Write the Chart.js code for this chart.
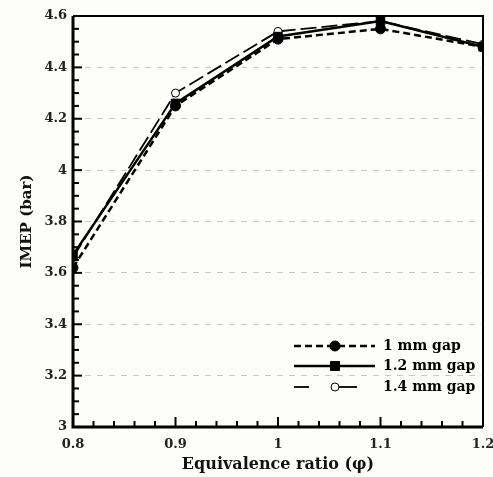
<!DOCTYPE html>
<html>
<head>
<meta charset="utf-8">
<script src="https://cdn.jsdelivr.net/npm/chart.js@4"></script>
<style>
html,body{margin:0;padding:0;background:#fdfdf9;}
#wrap{width:493px;height:477px;}
</style>
</head>
<body>
<div id="wrap"><canvas id="c" width="493" height="477"></canvas></div>
<script>
const phi = [0.8, 0.9, 1.0, 1.1, 1.2];
const gap1mm = [3.62, 4.25, 4.51, 4.55, 4.48];
const gap12mm = [3.67, 4.26, 4.52, 4.58, 4.48];
const gap14mm = [3.66, 4.30, 4.54, 4.58, 4.49];
const seriesLabels = ['1 mm gap', '1.2 mm gap', '1.4 mm gap'];
const xTitle = 'Equivalence ratio (\u03c6)';
const yTitle = 'IMEP (bar)';

const serif = "'DejaVu Serif', 'Liberation Serif', serif";

function pts(vals){ return phi.map((p,i)=>({x:p,y:vals[i]})); }

const bgPlugin = {
  id:'bg',
  beforeDraw(chart){
    const ctx=chart.ctx; ctx.save(); ctx.fillStyle='#fdfdf9';
    ctx.fillRect(0,0,chart.width,chart.height); ctx.restore();
  }
};

const framePlugin = {
  id:'frame',
  afterDraw(chart){
    const {ctx, chartArea:a, scales:{x,y}} = chart;
    ctx.save();
    ctx.strokeStyle='#000';
    ctx.lineWidth=2;
    for(let i=0;i<=32;i++){
      const v=3+i*0.05; const py=y.getPixelForValue(v);
      const len = (i%4===0)?9:6;
      ctx.beginPath(); ctx.moveTo(a.left,py); ctx.lineTo(a.left+len,py); ctx.stroke();
    }
    for(let i=0;i<=20;i++){
      const v=0.8+i*0.02; const px=x.getPixelForValue(v);
      const len = (i%5===0)?10:6;
      ctx.beginPath(); ctx.moveTo(px,a.bottom); ctx.lineTo(px,a.bottom-len); ctx.stroke();
    }
    ctx.lineWidth=2;
    ctx.beginPath(); ctx.moveTo(a.left,a.top); ctx.lineTo(a.right,a.top); ctx.lineTo(a.right,a.bottom); ctx.stroke();
    ctx.lineWidth=3;
    ctx.beginPath(); ctx.moveTo(a.left,a.top); ctx.lineTo(a.left,a.bottom); ctx.lineTo(a.right,a.bottom); ctx.stroke();
    ctx.restore();
  }
};

const legendPlugin = {
  id:'customLegend',
  afterDraw(chart){
    const {ctx, chartArea:a} = chart;
    const x0=a.left+221, x1=a.left+302, tx=a.left+310;
    const ys=[a.top+330, a.top+350, a.top+371];
    ctx.save();
    chart.data.datasets.forEach((ds,i)=>{
      const yy=ys[i];
      ctx.strokeStyle='#000'; ctx.lineWidth=ds.borderWidth;
      ctx.setLineDash(ds.borderDash||[]);
      const cx = x0 + 41;
      if(i===2){
        ctx.setLineDash([]);
        ctx.beginPath(); ctx.moveTo(x0,yy); ctx.lineTo(x0+15,yy); ctx.stroke();
        ctx.beginPath(); ctx.moveTo(cx+2,yy); ctx.lineTo(cx+22,yy); ctx.stroke();
      } else {
        ctx.beginPath(); ctx.moveTo(x0,yy); ctx.lineTo(x1,yy); ctx.stroke();
      }
      ctx.setLineDash([]);
      ctx.fillStyle=ds.pointBackgroundColor; ctx.strokeStyle='#000';
      ctx.beginPath();
      if(ds.pointStyle==='rect'){ const r=ds.pointRadius*0.75; ctx.rect(cx-r,yy-r,2*r,2*r);} else { ctx.arc(cx,yy,ds.pointRadius,0,Math.PI*2);}
      ctx.fill(); ctx.lineWidth=ds.pointBorderWidth||1; ctx.stroke();
      ctx.fillStyle='#000'; ctx.font="bold 14px "+serif; ctx.textBaseline='middle'; ctx.textAlign='left';
      ctx.fillText(seriesLabels[i], tx, yy);
    });
    ctx.restore();
  }
};

new Chart(document.getElementById('c'), {
  type:'line',
  data:{
    datasets:[
      {label:seriesLabels[0], data:pts(gap1mm), borderColor:'#000', borderWidth:2.5, borderDash:[7,4],
       pointStyle:'circle', pointRadius:5, pointBackgroundColor:'#000', pointBorderColor:'#000', pointBorderWidth:1, tension:0},
      {label:seriesLabels[1], data:pts(gap12mm), borderColor:'#000', borderWidth:2.5, borderDash:[],
       pointStyle:'rect', pointRadius:6, pointBackgroundColor:'#000', pointBorderColor:'#000', pointBorderWidth:1, tension:0},
      {label:seriesLabels[2], data:pts(gap14mm), borderColor:'#000', borderWidth:1.8, borderDash:[16,5],
       pointStyle:'circle', pointRadius:4, pointBackgroundColor:'#fff', pointBorderColor:'#000', pointBorderWidth:1, tension:0}
    ]
  },
  options:{
    responsive:false, animation:false,
    layout:{padding:{top:16,right:10,left:0,bottom:0}},
    plugins:{legend:{display:false}, tooltip:{enabled:false}},
    scales:{
      x:{type:'linear', min:0.8, max:1.2,
        ticks:{stepSize:0.1, font:{family:serif, weight:'bold', size:13}, color:'#222', padding:10,
          callback:(v)=>String(Math.round(v*10)/10)},
        grid:{display:false, drawTicks:false}, border:{display:false},
        title:{display:true, text:xTitle, font:{family:serif, weight:'bold', size:16}, color:'#111', padding:{top:2,bottom:3}},
        afterFit:(s)=>{s.height=50; s.paddingLeft=0; s.paddingRight=0;}
      },
      y:{type:'linear', min:3, max:4.6,
        ticks:{stepSize:0.2, font:{family:serif, weight:'bold', size:13}, color:'#222', padding:6,
          callback:(v)=>String(Math.round(v*10)/10)},
        grid:{color:'#c8c8c8', lineWidth:1, drawTicks:false}, border:{display:false, dash:[6,6]},
        title:{display:true, text:yTitle, font:{family:serif, weight:'bold', size:15}, color:'#111', padding:{top:18,bottom:4}},
        afterFit:(s)=>{s.width=73; s.paddingTop=0; s.paddingBottom=0;}
      }
    }
  },
  plugins:[bgPlugin, framePlugin, legendPlugin]
});
</script>
</body>
</html>
